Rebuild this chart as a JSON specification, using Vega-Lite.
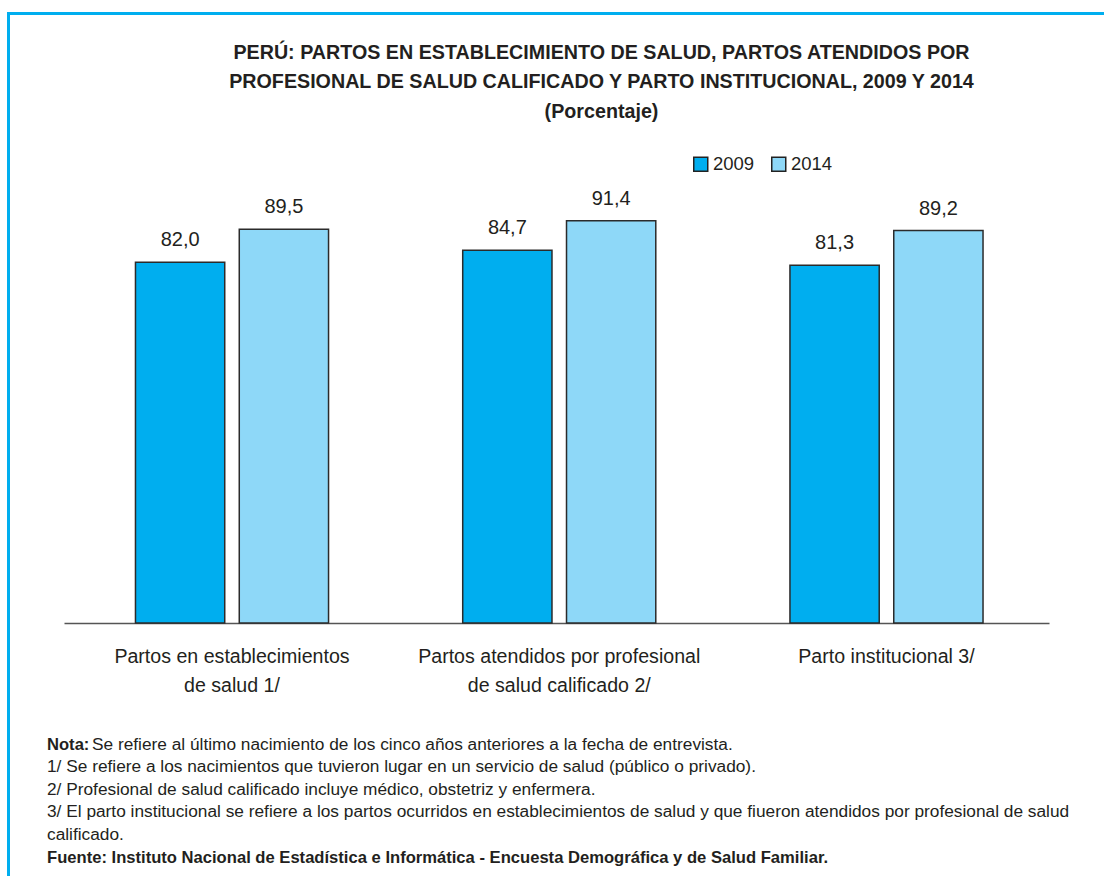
{
  "$schema": "https://vega.github.io/schema/vega-lite/v6.json",
  "width": 1186,
  "height": 880,
  "autosize": {"type": "none"},
  "padding": {"left": 8.5, "top": 13.5, "right": 0, "bottom": 0},
  "background": "white",
  "title": {
    "text": ["PERÚ: PARTOS EN ESTABLECIMIENTO DE SALUD, PARTOS ATENDIDOS POR", "PROFESIONAL DE SALUD CALIFICADO Y PARTO INSTITUCIONAL, 2009 Y 2014", "(Porcentaje)"],
    "anchor": "middle",
    "frame": "group",
    "font": "Liberation Sans",
    "fontSize": 19.7,
    "fontWeight": "bold",
    "color": "#231F20",
    "lineHeight": 29.5,
    "offset": -108
  },
  "datasets": {
    "bars": [
      {"cat": "Partos en establecimientos de salud 1/", "year": "2009", "value": 82.0},
      {"cat": "Partos en establecimientos de salud 1/", "year": "2014", "value": 89.5},
      {"cat": "Partos atendidos por profesional de salud calificado 2/", "year": "2009", "value": 84.7},
      {"cat": "Partos atendidos por profesional de salud calificado 2/", "year": "2014", "value": 91.4},
      {"cat": "Parto institucional 3/", "year": "2009", "value": 81.3},
      {"cat": "Parto institucional 3/", "year": "2014", "value": 89.2}
    ],
    "notes": [
      {"line": 1, "kind": "bold", "text": "Nota:"},
      {"line": 1, "kind": "lead", "text": "Se refiere al último nacimiento de los cinco años anteriores a la fecha de entrevista."},
      {"line": 2, "kind": "plain", "text": "1/ Se refiere a los nacimientos que tuvieron lugar en un servicio de salud (público o privado)."},
      {"line": 3, "kind": "plain", "text": "2/ Profesional de salud calificado incluye médico, obstetriz y enfermera."},
      {"line": 4, "kind": "plain", "text": "3/ El parto institucional se refiere a los partos ocurridos en establecimientos de salud y que fiueron atendidos por profesional de salud"},
      {"line": 5, "kind": "plain", "text": "calificado."},
      {"line": 6, "kind": "bold", "text": "Fuente: Instituto Nacional de Estadística e Informática - Encuesta Demográfica y de  Salud Familiar."}
    ]
  },
  "layer": [
    {
      "data": {"name": "bars"},
      "encoding": {
        "x": {
          "field": "cat",
          "type": "nominal",
          "sort": ["Partos en establecimientos de salud 1/", "Partos atendidos por profesional de salud calificado 2/", "Parto institucional 3/"],
          "scale": {"range": [55.5, 1040.5], "paddingInner": 0.41, "paddingOuter": 0.21, "align": 0.52},
          "axis": {
            "orient": "bottom",
            "offset": -270.5,
            "title": null,
            "ticks": false,
            "domainColor": "#555555",
            "domainWidth": 1.5,
            "labelFont": "Liberation Sans",
            "labelFontSize": 19.6,
            "labelColor": "#231F20",
            "labelAngle": 0,
            "labelPadding": 39,
            "labelBaseline": "alphabetic",
            "labelLineHeight": 29,
            "labelLimit": 0,
            "labelExpr": "datum.value == 'Partos en establecimientos de salud 1/' ? ['Partos en establecimientos', 'de salud 1/'] : datum.value == 'Partos atendidos por profesional de salud calificado 2/' ? ['Partos atendidos por profesional', 'de salud calificado 2/'] : datum.value"
          }
        },
        "xOffset": {"field": "year", "type": "nominal", "scale": {"paddingInner": 0.14, "paddingOuter": 0}},
        "y": {
          "field": "value",
          "type": "quantitative",
          "scale": {"domain": [0, 100], "range": [609.5, 169.5], "nice": false},
          "axis": null
        }
      },
      "layer": [
        {
          "mark": {"type": "bar", "stroke": "#2b2b2b", "strokeWidth": 1.5},
          "encoding": {
            "color": {
              "field": "year",
              "type": "nominal",
              "scale": {"domain": ["2009", "2014"], "range": ["#00AEEF", "#8ED8F8"]},
              "legend": {
                "orient": "none",
                "legendX": 683,
                "legendY": 141,
                "direction": "horizontal",
                "title": null,
                "symbolType": "square",
                "symbolSize": 196,
                "symbolStrokeColor": "#222222",
                "symbolStrokeWidth": 1.5,
                "symbolOpacity": 1,
                "labelFont": "Liberation Sans",
                "labelFontSize": 18.5,
                "labelColor": "#231F20",
                "labelOffset": 3,
                "columnPadding": 14,
                "padding": 0
              }
            }
          }
        },
        {
          "mark": {"type": "text", "dy": -16, "fontSize": 20, "font": "Liberation Sans", "color": "#231F20", "baseline": "alphabetic", "align": "center"},
          "encoding": {
            "text": {"field": "value", "type": "quantitative", "format": ".1f"}
          }
        }
      ]
    },
    {
      "data": {"name": "notes"},
      "encoding": {
        "x": {"datum": 0, "type": "quantitative", "scale": {"domain": [0, 1], "range": [38.5, 1038.5]}, "axis": null},
        "y": {"field": "line", "type": "ordinal", "scale": {"type": "point", "domain": [1, 2, 3, 4, 5, 6], "range": [736, 849], "padding": 0}, "axis": null},
        "text": {"field": "text", "type": "nominal"}
      },
      "layer": [
        {
          "transform": [{"filter": "datum.kind == 'bold'"}],
          "mark": {"type": "text", "align": "left", "baseline": "alphabetic", "fontSize": 16.6, "font": "Liberation Sans", "fontWeight": "bold", "color": "#231F20"}
        },
        {
          "transform": [{"filter": "datum.kind == 'lead'"}],
          "mark": {"type": "text", "align": "left", "baseline": "alphabetic", "fontSize": 17.3, "font": "Liberation Sans", "color": "#231F20", "dx": 45}
        },
        {
          "transform": [{"filter": "datum.kind == 'plain'"}],
          "mark": {"type": "text", "align": "left", "baseline": "alphabetic", "fontSize": 17.3, "font": "Liberation Sans", "color": "#231F20"}
        }
      ]
    }
  ],
  "resolve": {"scale": {"x": "independent", "y": "independent"}},
  "config": {
    "view": {"stroke": "#00AEEF", "strokeWidth": 3},
    "font": "Liberation Sans",
    "locale": {"number": {"decimal": ",", "thousands": ".", "grouping": [3], "currency": ["", ""]}}
  }
}
